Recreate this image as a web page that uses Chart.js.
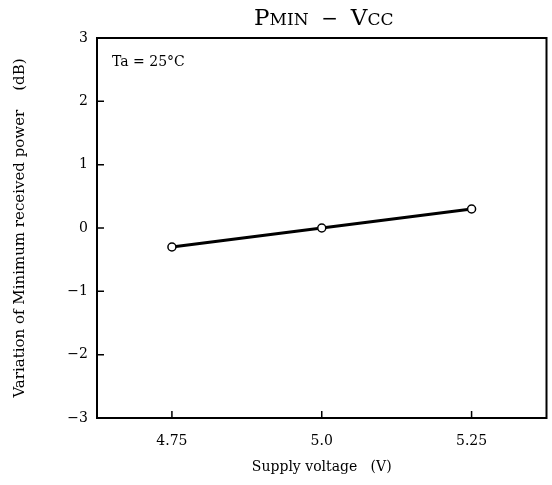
<!DOCTYPE html>
<html lang="en">
<head>
  <meta charset="UTF-8">
  <title>PMIN - VCC</title>
  <script src="https://cdn.jsdelivr.net/npm/chart.js"></script>
  <style>
    body { margin: 0; background: white; }
    #wrap { width: 552px; height: 485px; position: relative; }
  </style>
</head>
<body>
  <div id="wrap"><canvas id="myChart"></canvas></div>
  <script>
    // data
    const supplyVoltage = [4.75, 5.0, 5.25];
    const pminVariation = [-0.3, 0.0, 0.3];
    const xTickValues = [4.75, 5.0, 5.25];
    const xTickLabels = ['4.75', '5.0', '5.25'];

    const FONT = '"DejaVu Serif", "Liberation Serif", serif';

    // box, inward ticks, title and note
    const frame = {
      id: 'frame',
      afterDraw(chart) {
        const ctx = chart.ctx;
        const a = chart.chartArea;
        const xs = chart.scales.x, ys = chart.scales.y;
        ctx.save();
        ctx.strokeStyle = '#000';
        ctx.lineWidth = 2;
        ctx.strokeRect(a.left, a.top, a.right - a.left, a.bottom - a.top);
        ctx.lineWidth = 1.5;
        ctx.beginPath();
        xs.ticks.forEach(t => {
          const px = xs.getPixelForValue(t.value);
          ctx.moveTo(px, a.bottom); ctx.lineTo(px, a.bottom - 7);
        });
        ys.ticks.forEach(t => {
          const py = ys.getPixelForValue(t.value);
          ctx.moveTo(a.left, py); ctx.lineTo(a.left + 7, py);
        });
        ctx.stroke();

        // title with small-size subscripts
        ctx.fillStyle = '#000';
        ctx.textBaseline = 'alphabetic';
        const parts = [['P', 23], ['MIN', 17], ['  \u2212  ', 20], ['V', 23], ['CC', 17]];
        let w = 0;
        parts.forEach(p => { ctx.font = p[1] + 'px ' + FONT; w += ctx.measureText(p[0]).width; });
        let x = (a.left + a.right) / 2 - w / 2 + 2;
        parts.forEach(p => {
          ctx.font = p[1] + 'px ' + FONT;
          ctx.fillText(p[0], x, 25);
          x += ctx.measureText(p[0]).width;
        });

        ctx.font = '14px ' + FONT;
        ctx.fillText('Ta = 25\u00B0C', a.left + 15, 66);
        ctx.restore();
      }
    };

    new Chart(document.getElementById('myChart'), {
      type: 'line',
      data: {
        datasets: [{
          data: supplyVoltage.map((v, i) => ({ x: v, y: pminVariation[i] })),
          borderColor: '#000',
          borderWidth: 3,
          pointRadius: 4,
          pointBorderWidth: 1.5,
          pointBackgroundColor: '#fff',
          pointBorderColor: '#000',
          tension: 0
        }]
      },
      options: {
        responsive: true,
        maintainAspectRatio: false,
        animation: false,
        layout: { padding: { top: 38, right: 4, left: 0, bottom: 0 } },
        plugins: { legend: { display: false }, tooltip: { enabled: false } },
        scales: {
          x: {
            type: 'linear',
            min: 4.625,
            max: 5.375,
            afterBuildTicks(s) { s.ticks = xTickValues.map(v => ({ value: v })); },
            afterFit(s) { s.height = 67; },
            grid: { display: false, drawTicks: false },
            border: { display: false },
            ticks: {
              color: '#000',
              font: { family: FONT, size: 14 },
              padding: 15,
              callback: (v) => xTickLabels[xTickValues.indexOf(v)]
            },
            title: {
              display: true,
              text: 'Supply voltage   (V)',
              color: '#000',
              font: { family: FONT, size: 14 },
              padding: { top: 0, bottom: 9 }
            }
          },
          y: {
            min: -3,
            max: 3,
            afterFit(s) { s.width = 97; },
            grid: { display: false, drawTicks: false },
            border: { display: false },
            ticks: {
              stepSize: 1,
              color: '#000',
              font: { family: FONT, size: 14 },
              padding: 9,
              callback: (v) => v < 0 ? '\u2212' + Math.abs(v) : String(v)
            },
            title: {
              display: true,
              text: 'Variation of Minimum received power    (dB)',
              color: '#000',
              font: { family: FONT, size: 15 },
              padding: { top: 11, bottom: 0 }
            }
          }
        }
      },
      plugins: [frame]
    });
  </script>
</body>
</html>
